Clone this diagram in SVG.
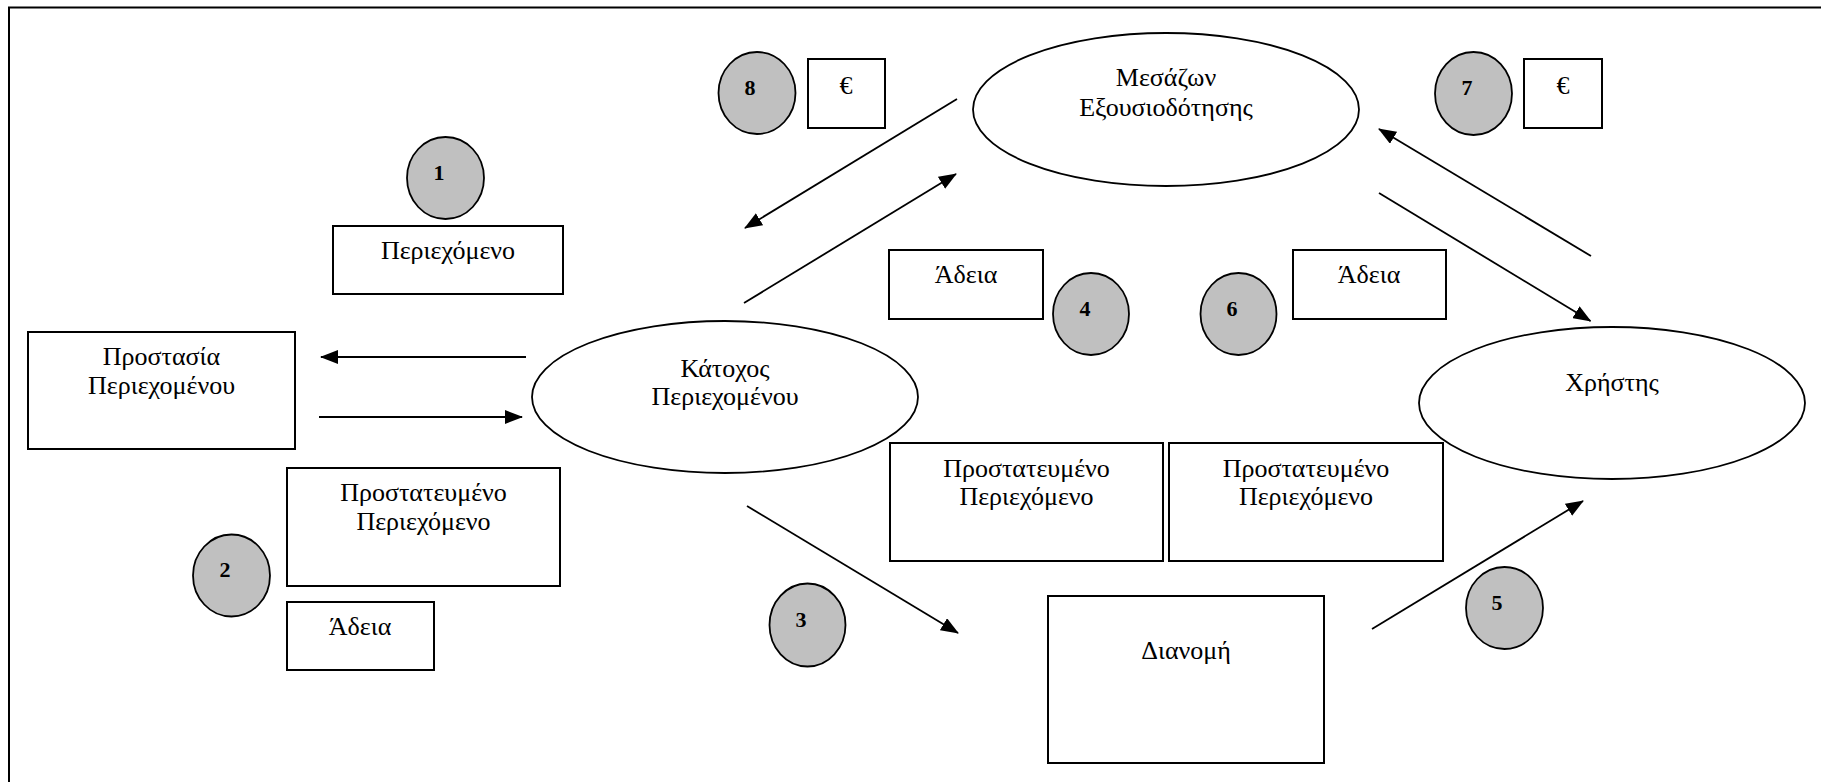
<svg xmlns="http://www.w3.org/2000/svg" width="1821" height="782" viewBox="0 0 1821 782">
<style>
.box{fill:#fff;stroke:#000;stroke-width:2}
.ell{fill:#fff;stroke:#000;stroke-width:1.8}
.num{fill:#c0c0c0;stroke:#000;stroke-width:1.8}
.t{font-family:"Liberation Serif","Times New Roman",serif;font-size:26px;text-anchor:middle;fill:#000}
.n{font-family:"Liberation Serif","Times New Roman",serif;font-size:22px;font-weight:bold;text-anchor:middle;fill:#000}
.c{stroke:#000;stroke-width:1.8;fill:none;marker-end:url(#ah)}
</style>
<defs>
<marker id="ah" viewBox="0 0 18 14" refX="17" refY="7" markerWidth="18" markerHeight="14" markerUnits="userSpaceOnUse" orient="auto">
<path d="M0,0 L18,7 L0,14 z" fill="#000"/>
</marker>
</defs>
<rect width="1821" height="782" fill="#fff"/>
<path d="M9,782 V7.5 H1821" fill="none" stroke="#000" stroke-width="2"/>

<g id="connectors">
<line class="c" x1="526" y1="357" x2="321" y2="357"/>
<line class="c" x1="319" y1="417" x2="522" y2="417"/>
<line class="c" x1="957" y1="99" x2="745" y2="228"/>
<line class="c" x1="744" y1="303" x2="956" y2="174"/>
<line class="c" x1="1591" y1="256" x2="1379" y2="129"/>
<line class="c" x1="1379" y1="193" x2="1590.5" y2="321"/>
<line class="c" x1="747" y1="506" x2="958" y2="633"/>
<line class="c" x1="1372" y1="629" x2="1583" y2="501"/>
</g>

<g id="n-content">
<rect class="box" x="333" y="226" width="230" height="68"/>
<text class="t" x="448" y="259">Περιεχόμενο</text>
</g>
<g id="n-protection">
<rect class="box" x="28" y="332" width="267" height="117"/>
<text class="t" x="161.5" y="365">Προστασία</text>
<text class="t" x="161.5" y="394">Περιεχομένου</text>
</g>
<g id="n-protected-left">
<rect class="box" x="287" y="468" width="273" height="118"/>
<text class="t" x="423.5" y="501">Προστατευμένο</text>
<text class="t" x="423.5" y="530">Περιεχόμενο</text>
</g>
<g id="n-license-left">
<rect class="box" x="287" y="602" width="147" height="68"/>
<text class="t" x="360" y="635">Άδεια</text>
</g>
<g id="n-owner">
<ellipse class="ell" cx="725" cy="397" rx="193" ry="76"/>
<text class="t" x="725" y="377">Κάτοχος</text>
<text class="t" x="725" y="405">Περιεχομένου</text>
</g>
<g id="n-broker">
<ellipse class="ell" cx="1166" cy="109.5" rx="193" ry="76.5"/>
<text class="t" x="1166" y="86">Μεσάζων</text>
<text class="t" x="1166" y="116">Εξουσιοδότησης</text>
</g>
<g id="n-user">
<ellipse class="ell" cx="1612" cy="403" rx="193" ry="76"/>
<text class="t" x="1612" y="391">Χρήστης</text>
</g>
<g id="n-euro-8">
<rect class="box" x="808" y="59" width="77" height="69"/>
<text class="t" x="846" y="94">€</text>
</g>
<g id="n-euro-7">
<rect class="box" x="1524" y="59" width="78" height="69"/>
<text class="t" x="1563" y="94">€</text>
</g>
<g id="n-license-mid">
<rect class="box" x="889" y="250" width="154" height="69"/>
<text class="t" x="966" y="283">Άδεια</text>
</g>
<g id="n-license-right">
<rect class="box" x="1293" y="250" width="153" height="69"/>
<text class="t" x="1369" y="283">Άδεια</text>
</g>
<g id="n-protected-mid1">
<rect class="box" x="890" y="443" width="273" height="118"/>
<text class="t" x="1026.5" y="477">Προστατευμένο</text>
<text class="t" x="1026.5" y="505">Περιεχόμενο</text>
</g>
<g id="n-protected-mid2">
<rect class="box" x="1169" y="443" width="274" height="118"/>
<text class="t" x="1306" y="477">Προστατευμένο</text>
<text class="t" x="1306" y="505">Περιεχόμενο</text>
</g>
<g id="n-distribution">
<rect class="box" x="1048" y="596" width="276" height="167"/>
<text class="t" x="1186" y="659">Διανομή</text>
</g>

<g id="s1"><ellipse class="num" cx="445.5" cy="178" rx="38.5" ry="41"/><text class="n" x="439" y="180">1</text></g>
<g id="s2"><ellipse class="num" cx="231.5" cy="575.5" rx="38.5" ry="41"/><text class="n" x="225" y="577">2</text></g>
<g id="s3"><ellipse class="num" cx="807.5" cy="625" rx="38" ry="41.5"/><text class="n" x="801" y="627">3</text></g>
<g id="s4"><ellipse class="num" cx="1091" cy="314" rx="38" ry="41"/><text class="n" x="1085" y="316">4</text></g>
<g id="s5"><ellipse class="num" cx="1504.5" cy="608" rx="38.5" ry="41"/><text class="n" x="1497" y="610">5</text></g>
<g id="s6"><ellipse class="num" cx="1238.5" cy="314" rx="38" ry="41"/><text class="n" x="1232" y="316">6</text></g>
<g id="s7"><ellipse class="num" cx="1473.5" cy="93.5" rx="38.5" ry="41.5"/><text class="n" x="1467" y="95">7</text></g>
<g id="s8"><ellipse class="num" cx="757" cy="93" rx="38.5" ry="41"/><text class="n" x="750" y="95">8</text></g>
</svg>
